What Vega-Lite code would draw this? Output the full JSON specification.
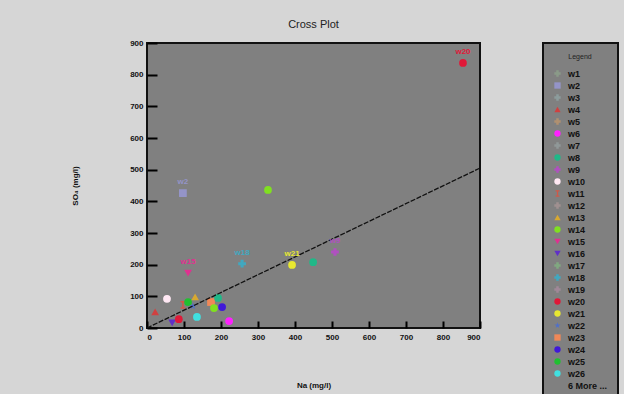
{
  "$schema": "https://vega.github.io/schema/vega-lite/v6.json",
  "width": 333,
  "height": 285,
  "autosize": {"type": "none"},
  "padding": {"left": 147, "top": 43, "right": 144, "bottom": 66},
  "background": "#d6d6d6",
  "title": {"text": "Cross Plot", "fontSize": 11, "font": "Liberation Sans", "fontWeight": "normal", "color": "#222", "anchor": "middle", "offset": 9},
  "datasets": {
    "samples": [
      {"well": "w4", "na": 22, "so4": 51},
      {"well": "w10", "na": 54, "so4": 92},
      {"well": "w16", "na": 68, "so4": 16},
      {"well": "w20", "na": 86, "so4": 28},
      {"well": "w11", "na": 97, "so4": 73},
      {"well": "w25", "na": 111, "so4": 82},
      {"well": "w13", "na": 130, "so4": 98},
      {"well": "w22", "na": 124, "so4": 69},
      {"well": "w26", "na": 135, "so4": 35},
      {"well": "w23", "na": 173, "so4": 82},
      {"well": "w8", "na": 192, "so4": 95},
      {"well": "w14", "na": 181, "so4": 63},
      {"well": "w24", "na": 203, "so4": 66},
      {"well": "w6", "na": 222, "so4": 22},
      {"well": "w15", "na": 111, "so4": 173, "label": "w15"},
      {"well": "w2", "na": 97, "so4": 426, "label": "w2"},
      {"well": "w14", "na": 327, "so4": 436},
      {"well": "w18", "na": 257, "so4": 203, "label": "w18"},
      {"well": "w21", "na": 392, "so4": 199, "label": "w21"},
      {"well": "w8", "na": 449, "so4": 208},
      {"well": "w9", "na": 508, "so4": 240, "label": "w9"},
      {"well": "w20", "na": 854, "so4": 837, "label": "w20"}
    ],
    "fit": [
      {"na": 0, "so4": 0},
      {"na": 900, "so4": 505}
    ]
  },
  "layer": [
    {
      "data": {"name": "samples"},
      "mark": {"type": "point", "filled": true, "size": 60, "opacity": 1},
      "encoding": {
        "x": {"field": "na", "type": "quantitative", "scale": {"domain": [0, 900], "nice": false}, "title": "Na (mg/l)"},
        "y": {"field": "so4", "type": "quantitative", "scale": {"domain": [0, 900], "nice": false}, "title": "SO₄ (mg/l)"},
        "color": {
          "field": "well", "type": "nominal",
          "scale": {
            "domain": ["w1","w2","w3","w4","w5","w6","w7","w8","w9","w10","w11","w12","w13","w14","w15","w16","w17","w18","w19","w20","w21","w22","w23","w24","w25","w26","6 More ..."],
            "range": ["#8a9a88","#9494c8","#8c9c9c","#d04040","#b09070","#ff20ff","#909898","#20b888","#b050c0","#ffe8f4","#d05848","#a09090","#d8a830","#80e020","#e03090","#6030c8","#80a880","#40a8c0","#a08898","#e01838","#e8e830","#5070c8","#f08858","#4018d8","#20c030","#40e0e0","transparent"]
          },
          "legend": {"title": "Legend"}
        },
        "shape": {
          "field": "well", "type": "nominal",
          "scale": {
            "domain": ["w1","w2","w3","w4","w5","w6","w7","w8","w9","w10","w11","w12","w13","w14","w15","w16","w17","w18","w19","w20","w21","w22","w23","w24","w25","w26","6 More ..."],
            "range": ["cross","square","cross","triangle-up","cross","circle","cross","circle","cross","circle","M-0.6,-1H0.6V-0.6H0.2V0.6H0.6V1H-0.6V0.6H-0.2V-0.6H-0.6Z","cross","triangle-up","circle","triangle-down","triangle-down","cross","cross","cross","circle","circle","M0,-1L0.22,-0.31L0.95,-0.31L0.36,0.12L0.59,0.81L0,0.38L-0.59,0.81L-0.36,0.12L-0.95,-0.31L-0.22,-0.31Z","square","circle","circle","circle","circle"]
          },
          "legend": {"title": "Legend"}
        }
      }
    },
    {
      "data": {"name": "fit"},
      "mark": {"type": "line", "color": "#111", "strokeWidth": 1.3, "strokeDash": [5, 1.5]},
      "encoding": {
        "x": {"field": "na", "type": "quantitative"},
        "y": {"field": "so4", "type": "quantitative"}
      }
    },
    {
      "data": {"name": "samples"},
      "transform": [{"filter": "datum.label"}],
      "mark": {"type": "text", "dy": -11, "fontSize": 8, "fontWeight": "bold", "font": "Liberation Sans"},
      "encoding": {
        "x": {"field": "na", "type": "quantitative"},
        "y": {"field": "so4", "type": "quantitative"},
        "text": {"field": "label"},
        "color": {"field": "well", "type": "nominal", "legend": null}
      }
    }
  ],
  "config": {
    "view": {"fill": "#808080", "stroke": "#111", "strokeWidth": 2},
    "axis": {
      "grid": false,
      "domain": false,
      "ticks": true,
      "zindex": 1,
      "tickColor": "#000",
      "tickWidth": 2,
      "tickOpacity": 1,
      "labelFont": "Liberation Sans",
      "labelFontSize": 8,
      "labelFontWeight": "bold",
      "labelColor": "#111",
      "titleFont": "Liberation Sans",
      "titleFontSize": 8,
      "titleFontWeight": "bold",
      "titleColor": "#111"
    },
    "axisX": {"offset": -7, "tickSize": 7, "labelPadding": 5, "titlePadding": 40, "values": [0,100,200,300,400,500,600,700,800,900]},
    "axisY": {"offset": -10, "tickSize": 10, "labelPadding": 4, "titlePadding": 50, "values": [0,100,200,300,400,500,600,700,800,900], "labelBaseline": "middle"},
    "legend": {
      "orient": "none",
      "legendX": 396,
      "legendY": 0,
      "fillColor": "#808080",
      "strokeColor": "#111",
      "strokeWidth": 2,
      "padding": 10,
      "titleFont": "Liberation Sans",
      "titleFontSize": 7,
      "titleFontWeight": "normal",
      "titleColor": "#222",
      "titleAnchor": "middle",
      "titlePadding": 9,
      "labelFont": "Liberation Sans",
      "labelFontSize": 9,
      "labelFontWeight": "bold",
      "labelColor": "#111",
      "symbolSize": 40,
      "symbolLimit": 50,
      "rowPadding": 2,
      "labelOffset": 6
    }
  }
}
